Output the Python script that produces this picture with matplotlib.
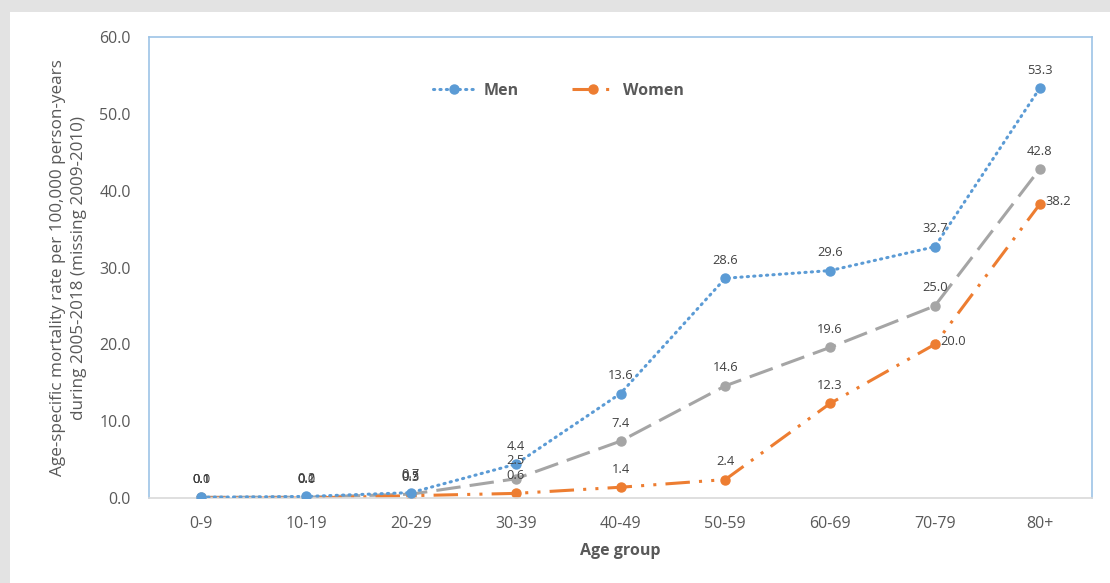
import matplotlib
matplotlib.use('Agg')
import matplotlib.pyplot as plt
from matplotlib.patches import Rectangle

# ---------------------------------------------------------------------------
# data
# ---------------------------------------------------------------------------
age_groups = ['0-9', '10-19', '20-29', '30-39', '40-49', '50-59',
              '60-69', '70-79', '80+']
men = [0.1, 0.2, 0.7, 4.4, 13.6, 28.6, 29.6, 32.7, 53.3]
total = [0.1, 0.1, 0.5, 2.5, 7.4, 14.6, 19.6, 25.0, 42.8]
women = [0.0, 0.0, 0.3, 0.6, 1.4, 2.4, 12.3, 20.0, 38.2]
y_ticks = [0, 10, 20, 30, 40, 50, 60]

# ---------------------------------------------------------------------------
# style
# ---------------------------------------------------------------------------
c_men = '#5B9BD5'
c_women = '#ED7D31'
c_total = '#A5A5A5'
c_text = '#595959'
c_lab = '#404040'

plt.rcParams['font.family'] = ['Open Sans', 'DejaVu Sans']

fig = plt.figure(figsize=(11.1, 5.83), dpi=100)
fig.patch.set_facecolor('#E3E3E3')
# white panel behind everything
panel = Rectangle((10 / 1110, 0), 1.0, (583 - 12) / 583,
                  transform=fig.transFigure, facecolor='white',
                  edgecolor='none')
panel.set_zorder(-10)
fig.add_artist(panel)

ax = fig.add_axes([149 / 1110, (583 - 498) / 583, 943 / 1110, 461 / 583])
ax.set_zorder(1)
ax.set_facecolor('none')

x = list(range(len(age_groups)))

ax.plot(x, men, color=c_men, linestyle=(0, (0.4, 1.7)), linewidth=2.2,
        dash_capstyle='round', marker='o', markersize=6.5, label='Men',
        zorder=3)
ax.plot(x, total, color=c_total, linestyle=(0, (8, 3)), linewidth=2.2,
        marker='o', markersize=6.5, zorder=2)
ax.plot(x, women, color=c_women, linestyle=(0, (8, 3, 1, 3, 1, 3)),
        linewidth=2.2, marker='o', markersize=6.5, label='Women', zorder=2)

# data labels
lab_fs = 9.3
for i in x:
    ax.annotate('{:.1f}'.format(men[i]), (i, men[i]), xytext=(0, 13),
                textcoords='offset points', ha='center', va='center',
                fontsize=lab_fs, color=c_lab)
    ax.annotate('{:.1f}'.format(total[i]), (i, total[i]), xytext=(0, 13),
                textcoords='offset points', ha='center', va='center',
                fontsize=lab_fs, color=c_lab)
    if i >= 7:
        ax.annotate('{:.1f}'.format(women[i]), (i, women[i]), xytext=(4, 2),
                    textcoords='offset points', ha='left', va='center',
                    fontsize=lab_fs, color=c_lab)
    else:
        ax.annotate('{:.1f}'.format(women[i]), (i, women[i]), xytext=(0, 13),
                    textcoords='offset points', ha='center', va='center',
                    fontsize=lab_fs, color=c_lab)

ax.set_xlim(-0.5, len(age_groups) - 0.5)
ax.set_ylim(0, 60)
ax.set_xticks(x)
ax.set_xticklabels(age_groups)
ax.set_yticks(y_ticks)
ax.set_yticklabels(['{:.1f}'.format(v) for v in y_ticks])
ax.tick_params(axis='both', length=0, labelsize=11.5, labelcolor=c_text)
ax.tick_params(axis='x', pad=13)
ax.tick_params(axis='y', pad=13)

for side in ['top', 'left', 'right']:
    ax.spines[side].set_color('#9DC3E6')
    ax.spines[side].set_linewidth(1.2)
ax.spines['bottom'].set_color('#D9D9D9')
ax.spines['bottom'].set_linewidth(1.2)

ax.set_xlabel('Age group', fontsize=11.5, fontweight='bold', color=c_text,
              labelpad=8)
ax.set_ylabel('Age-specific mortality rate per 100,000 person-years\n'
              'during 2005-2018 (missing 2009-2010)', fontsize=12.3,
              color=c_text, labelpad=9, linespacing=1.4)

leg = ax.legend(loc='center', bbox_to_anchor=(0.434, 0.883), ncol=2,
                frameon=False, fontsize=11.5, handlelength=2.6,
                columnspacing=3.3, handletextpad=0.6)
for t in leg.get_texts():
    t.set_color(c_text)
    t.set_fontweight('bold')

fig.savefig('out.png', dpi=100, facecolor=fig.get_facecolor())
